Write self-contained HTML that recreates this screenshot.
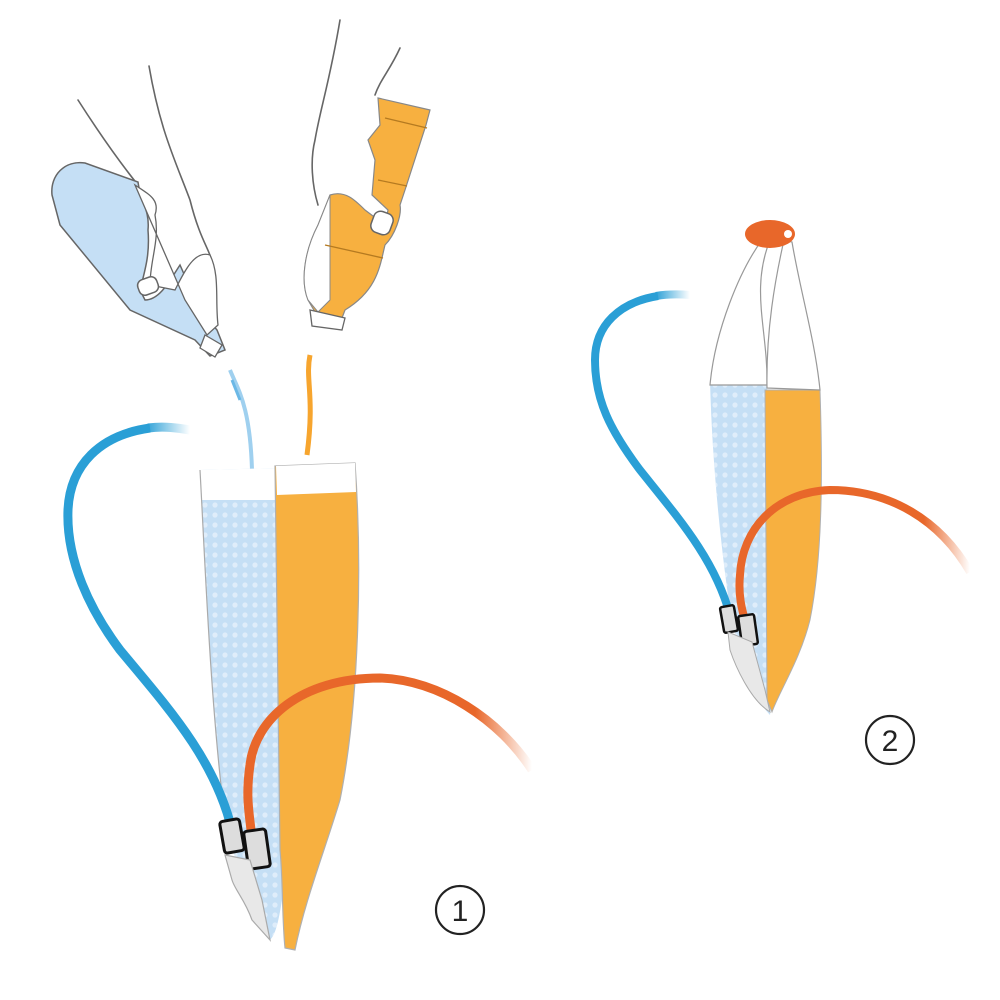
<!DOCTYPE html>
<html><head><meta charset="utf-8"><style>
html,body{margin:0;padding:0;background:#fff;}
svg{display:block}
</style></head><body>
<svg width="1000" height="1000" viewBox="0 0 1000 1000" xmlns="http://www.w3.org/2000/svg">
<defs>
<pattern id="dots" width="10" height="10" patternUnits="userSpaceOnUse">
<circle cx="5" cy="5" r="2.6" fill="#e6f1fb"/>
</pattern>
<linearGradient id="fadeB1" gradientUnits="userSpaceOnUse" x1="145" y1="0" x2="190" y2="0"><stop offset="0" stop-color="#2a9fd6"/><stop offset="1" stop-color="#2a9fd6" stop-opacity="0"/></linearGradient>
<linearGradient id="fadeB2" gradientUnits="userSpaceOnUse" x1="655" y1="0" x2="690" y2="0"><stop offset="0" stop-color="#2a9fd6"/><stop offset="1" stop-color="#2a9fd6" stop-opacity="0"/></linearGradient>
<linearGradient id="fadeO" x1="0" y1="0" x2="1" y2="0"><stop offset="0.8" stop-color="#e8672a"/><stop offset="1" stop-color="#e8672a" stop-opacity="0"/></linearGradient>
</defs>

<!-- ===== Figure 1 ===== -->
<g fill="none" stroke="#666" stroke-width="1.6" stroke-linecap="round">
<path d="M78,100 C110,150 130,175 138,185"/>
<path d="M149,66 C160,130 175,160 190,200 C200,240 210,250 212,262"/>
<path d="M340,20 C330,80 320,110 315,140 C310,160 312,185 318,205"/>
<path d="M400,48 C390,70 380,80 375,95"/>
</g>
<path d="M52,195 C50,175 65,160 85,163 L138,182 C140,200 150,210 148,230 C150,255 145,270 140,290 L145,300 C160,300 170,280 180,265 L200,310 L217,330 L225,350 L210,356 L195,340 L130,310 L60,225 Z" fill="#c5dff5" stroke="#666" stroke-width="1.5"/>
<path d="M135,185 C150,195 160,200 155,215 C160,240 150,260 150,285 L175,290 C185,270 195,250 210,255 C220,275 215,300 218,325 L207,335 L185,300 Z" fill="#fff" stroke="#666" stroke-width="1.3"/>
<rect x="138" y="278" width="20" height="16" rx="6" fill="#fff" stroke="#666" stroke-width="1.5" transform="rotate(-20 148 286)"/>
<path d="M205,335 L222,345 L215,357 L200,348 Z" fill="#fff" stroke="#666" stroke-width="1.3"/>
<path d="M378,98 L430,110 L426,125 L405,190 L400,205 C402,215 395,235 385,245 C380,265 378,290 345,310 L342,318 L315,312 L308,300 C300,280 305,250 318,225 L330,195 C345,190 355,200 365,210 L385,225 L388,210 L372,195 L375,160 L368,140 L380,125 Z" fill="#f7b040" stroke="#888" stroke-width="1.2"/>
<path d="M330,195 L318,225 C305,250 300,280 308,300 L318,312 L330,300 Z" fill="#fff" stroke="#888" stroke-width="1"/>
<rect x="372" y="212" width="20" height="22" rx="7" fill="#fff" stroke="#666" stroke-width="1.5" transform="rotate(20 382 223)"/>
<path d="M310,310 L345,318 L342,330 L312,326 Z" fill="#fff" stroke="#666" stroke-width="1.3"/>
<g stroke="#b57a20" stroke-width="1.3"><line x1="385" y1="118" x2="427" y2="128"/><line x1="378" y1="180" x2="407" y2="186"/><line x1="325" y1="245" x2="383" y2="258"/></g>
<path d="M230,370 C238,390 250,405 252,470" stroke="#9fd0ef" stroke-width="4" fill="none"/>
<path d="M232,380 L240,400" stroke="#6bb8e6" stroke-width="3"/>
<path d="M310,355 C305,380 315,395 307,455" stroke="#f7a52e" stroke-width="5" fill="none"/>
<path d="M200,470 L280,468 L282,900 C278,925 275,935 270,940 C255,920 240,880 225,820 C210,700 205,560 200,470 Z" fill="#c5dff5"/>
<path d="M200,470 L280,468 L282,900 C278,925 275,935 270,940 C255,920 240,880 225,820 C210,700 205,560 200,470 Z" fill="url(#dots)" opacity="0.8"/>
<path d="M200,470 L280,468 L280,500 L202,500 Z" fill="#fff"/>
<path d="M200,470 C205,560 210,700 225,820" stroke="#aaa" stroke-width="1.2" fill="none"/>
<path d="M275,466 L355,463 C362,560 360,700 340,800 C325,850 305,900 295,950 L285,948 C282,920 283,880 280,850 Z" fill="#f7b040" stroke="#b0b0b0" stroke-width="1.2"/>
<path d="M276,466 L355,463 L356,492 L277,495 Z" fill="#fff"/>
<path d="M150,428 C100,435 70,465 68,510 C66,560 90,610 120,650 C170,710 215,760 232,830" stroke="#2a9fd6" stroke-width="9" fill="none"/>
<path d="M148,428 C165,426 178,428 190,430" stroke="url(#fadeB1)" stroke-width="9" fill="none"/>
<path d="M532,770 C500,720 440,680 380,678 C300,678 255,720 250,765 C245,800 250,815 252,840" stroke="url(#fadeO)" stroke-width="9" fill="none"/>
<g stroke="#111" stroke-width="3">
<rect x="222" y="820" width="20" height="32" rx="3" fill="#ddd" transform="rotate(-10 232 836)"/>
<rect x="246" y="830" width="22" height="38" rx="3" fill="#ddd" transform="rotate(-8 257 849)"/>
</g>
<path d="M225,855 L250,860 L262,900 L270,940 L252,920 C245,900 235,890 232,880 Z" fill="#e8e8e8" stroke="#aaa" stroke-width="1.2"/>
<circle cx="460" cy="910" r="24" fill="none" stroke="#222" stroke-width="2.2"/>
<text x="460" y="921" text-anchor="middle" font-family="Liberation Sans, sans-serif" font-size="30" fill="#222">1</text>

<!-- ===== Figure 2 ===== -->
<path d="M710,380 L767,380 L772,700 L770,715 C755,700 740,660 730,610 C720,540 712,460 710,380 Z" fill="#c5dff5"/>
<path d="M710,380 L767,380 L772,700 L770,715 C755,700 740,660 730,610 C720,540 712,460 710,380 Z" fill="url(#dots)" opacity="0.8"/>
<path d="M765,390 L820,390 C823,480 822,560 810,620 C800,660 780,690 772,712 L767,700 Z" fill="#f7b040" stroke="#b0b0b0" stroke-width="1"/>
<path d="M710,385 C715,330 740,270 762,240 L770,240 C750,290 768,330 767,385 Z" fill="#fff" stroke="#999" stroke-width="1.2"/>
<path d="M767,388 C766,330 775,280 784,240 L792,242 C800,290 815,340 820,390 Z" fill="#fff" stroke="#999" stroke-width="1.2"/>
<ellipse cx="770" cy="234" rx="25" ry="14" fill="#e8672a"/>
<circle cx="788" cy="234" r="4" fill="#fff"/>
<path d="M658,296 C620,302 595,325 595,360 C595,400 610,430 640,470 C680,520 715,560 730,615" stroke="#2a9fd6" stroke-width="8" fill="none"/>
<path d="M656,296 C668,294 678,294 690,295" stroke="url(#fadeB2)" stroke-width="8" fill="none"/>
<path d="M970,572 C940,520 890,490 830,490 C775,492 742,530 740,575 C738,595 742,610 745,620" stroke="url(#fadeO)" stroke-width="8" fill="none"/>
<g stroke="#111" stroke-width="2.5">
<rect x="722" y="606" width="14" height="26" rx="2" fill="#ddd" transform="rotate(-10 729 619)"/>
<rect x="740" y="615" width="16" height="30" rx="2" fill="#ddd" transform="rotate(-8 748 630)"/>
</g>
<path d="M728,632 L752,642 L765,690 L770,712 C750,700 735,665 730,650 Z" fill="#e8e8e8" stroke="#aaa" stroke-width="1"/>
<circle cx="890" cy="740" r="24" fill="none" stroke="#222" stroke-width="2.2"/>
<text x="890" y="751" text-anchor="middle" font-family="Liberation Sans, sans-serif" font-size="30" fill="#222">2</text>
</svg>
</body></html>
